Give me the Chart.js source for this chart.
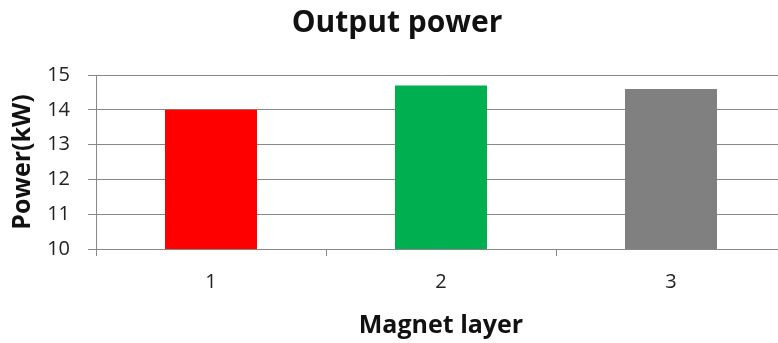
<!DOCTYPE html>
<html>
<head>
<meta charset="utf-8">
<script src="https://cdn.jsdelivr.net/npm/chart.js@4"></script>
<style>
  html, body { margin: 0; padding: 0; background: #fff; overflow: hidden; }
  #wrap { width: 790px; height: 343px; }
</style>
</head>
<body>
<div id="wrap"><canvas id="power-chart"></canvas></div>
<script>
const layers = ["1", "2", "3"];
const powerKW = [14.0, 14.7, 14.6];
const barColors = ["#ff0000", "#00b050", "#808080"];

const FONT = "'Open Sans', sans-serif";

const ctx = document.getElementById("power-chart").getContext("2d");
new Chart(ctx, {
  type: "bar",
  data: {
    labels: layers,
    datasets: [
      {
        label: "Output power",
        data: powerKW,
        backgroundColor: barColors,
        categoryPercentage: 1,
        barPercentage: 0.4,
      },
    ],
  },
  options: {
    responsive: true,
    maintainAspectRatio: false,
    animation: false,
    layout: { padding: { left: 8, right: 4, top: 0, bottom: 2 } },
    scales: {
      x: {
        afterFit: (s) => { s.height = 92; },
        grid: { display: true, drawOnChartArea: false, offset: true, color: "#888", tickLength: 7 },
        border: { color: "#888" },
        ticks: { color: "#222", font: { family: FONT, size: 20 }, padding: 14 },
        title: { display: true, text: "Magnet layer", color: "#111", font: { family: FONT, size: 25, weight: "bold" }, padding: 0 },
      },
      y: {
        min: 10,
        max: 15,
        afterFit: (s) => { s.width = 88; },
        grid: { color: "#888", tickLength: 8 },
        border: { color: "#888" },
        ticks: { stepSize: 1, color: "#222", font: { family: FONT, size: 20 }, padding: 18 },
        title: { display: true, text: "Power(kW)", color: "#111", font: { family: FONT, size: 25, weight: "bold" }, padding: 0 },
      },
    },
    plugins: {
      legend: { display: false },
      title: { display: true, text: "Output power", color: "#111", font: { family: FONT, size: 30, weight: "bold" }, padding: { top: 5, bottom: 34 } },
      tooltip: { enabled: false },
    },
  },
});
</script>
</body>
</html>
